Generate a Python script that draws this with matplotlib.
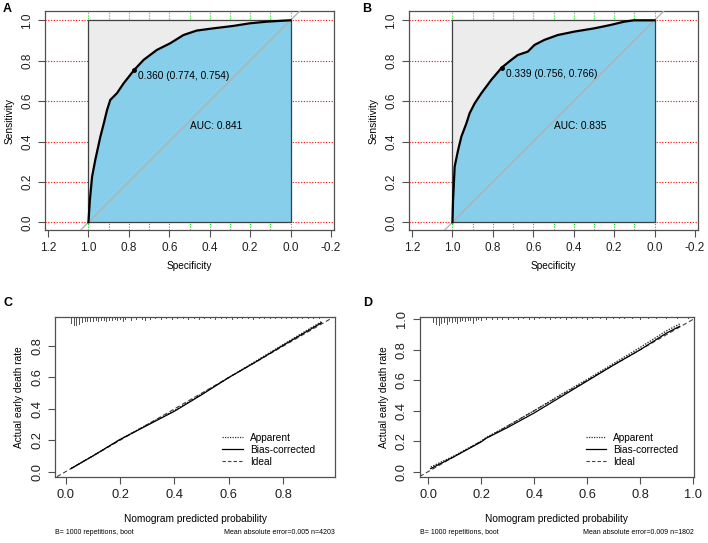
"""
ROC curves (A, B) and bootstrap calibration curves (C, D)
"""

import matplotlib
matplotlib.use("Agg")
import matplotlib.pyplot as plt
from matplotlib.lines import Line2D
from matplotlib.patches import Rectangle
import numpy as np

plt.rcParams["font.family"] = ["Liberation Sans", "DejaVu Sans"]

# ── ROC data ──
roc_a_spec = [1.0, 0.993, 0.982, 0.966, 0.941, 0.924, 0.908, 0.892, 0.859, 0.826,
              0.774, 0.727, 0.662, 0.596, 0.530, 0.465, 0.383, 0.284, 0.202, 0.120,
              0.038, 0.0]
roc_a_sens = [0.0, 0.11, 0.226, 0.31, 0.424, 0.49, 0.556, 0.606, 0.639, 0.688,
              0.754, 0.804, 0.853, 0.886, 0.927, 0.949, 0.96, 0.972, 0.985, 0.993,
              0.998, 1.0]
roc_a_thres = (0.774, 0.754, "0.360 (0.774, 0.754)")
roc_a_auc = "AUC: 0.841"

roc_b_spec = [1.0, 0.997, 0.989, 0.972, 0.956, 0.931, 0.915, 0.890, 0.857, 0.808,
              0.756, 0.709, 0.677, 0.627, 0.594, 0.545, 0.479, 0.397, 0.299, 0.217,
              0.151, 0.102, 0.0]
roc_b_sens = [0.0, 0.11, 0.276, 0.358, 0.424, 0.49, 0.54, 0.589, 0.639, 0.705,
              0.766, 0.804, 0.828, 0.845, 0.878, 0.903, 0.927, 0.944, 0.96, 0.977,
              0.993, 1.0, 1.0]
roc_b_thres = (0.756, 0.766, "0.339 (0.756, 0.766)")
roc_b_auc = "AUC: 0.835"

roc_xticks = [1.2, 1.0, 0.8, 0.6, 0.4, 0.2, 0.0, -0.2]
roc_xticklabels = ["1.2", "1.0", "0.8", "0.6", "0.4", "0.2", "0.0", "-0.2"]
roc_yticks = [0.0, 0.2, 0.4, 0.6, 0.8, 1.0]

# ── calibration data ──
cal_c_x = [0.02, 0.1, 0.2, 0.3, 0.4, 0.5, 0.6, 0.7, 0.8, 0.94]
cal_c_apparent = [0.02, 0.10, 0.205, 0.30, 0.39, 0.495, 0.60, 0.705, 0.81, 0.955]
cal_c_bias = [0.02, 0.10, 0.205, 0.295, 0.385, 0.49, 0.60, 0.70, 0.805, 0.948]

cal_d_x = [0.01, 0.1, 0.2, 0.22, 0.3, 0.4, 0.5, 0.6, 0.7, 0.8, 0.9, 0.95]
cal_d_apparent = [0.03, 0.105, 0.20, 0.225, 0.30, 0.40, 0.505, 0.605, 0.71, 0.815, 0.925, 0.97]
cal_d_bias = [0.02, 0.10, 0.195, 0.22, 0.29, 0.385, 0.49, 0.595, 0.70, 0.80, 0.91, 0.955]

# spike histogram along the top (position, length in y units)
rug_c_x = [0.02, 0.03, 0.04, 0.05, 0.06, 0.07, 0.08, 0.09, 0.10, 0.11, 0.12, 0.13,
           0.14, 0.15, 0.16, 0.17, 0.18, 0.19, 0.20, 0.21, 0.22, 0.24, 0.26, 0.28,
           0.29, 0.31, 0.33, 0.35, 0.37, 0.39, 0.41, 0.43, 0.45, 0.47, 0.49, 0.51,
           0.53, 0.55, 0.57, 0.59, 0.61, 0.63, 0.65, 0.67, 0.69, 0.71, 0.73, 0.75,
           0.77, 0.79, 0.81, 0.83, 0.85, 0.87, 0.89, 0.91, 0.93]
rug_c_len = [0.04, 0.05, 0.05, 0.045, 0.035, 0.03, 0.025, 0.03, 0.025, 0.02, 0.025, 0.02,
             0.02, 0.025, 0.018, 0.02, 0.015, 0.02, 0.015, 0.03, 0.015, 0.02, 0.015, 0.012,
             0.018, 0.012, 0.01, 0.012, 0.01, 0.012, 0.01, 0.01, 0.012, 0.01, 0.012, 0.01,
             0.01, 0.012, 0.01, 0.01, 0.012, 0.01, 0.01, 0.01, 0.012, 0.01, 0.01, 0.01,
             0.01, 0.01, 0.01, 0.01, 0.01, 0.01, 0.01, 0.01, 0.01]

rug_d_x = [0.02, 0.03, 0.04, 0.05, 0.06, 0.07, 0.08, 0.09, 0.10, 0.11, 0.12, 0.13,
           0.14, 0.15, 0.16, 0.17, 0.18, 0.19, 0.20, 0.22, 0.24, 0.26, 0.28, 0.30,
           0.32, 0.34, 0.36, 0.38, 0.40, 0.42, 0.44, 0.46, 0.48, 0.50, 0.52, 0.54,
           0.56, 0.58, 0.60, 0.62, 0.65, 0.67, 0.70, 0.72, 0.74, 0.77, 0.80, 0.83,
           0.86, 0.90, 0.94, 0.98]
rug_d_len = [0.035, 0.045, 0.055, 0.04, 0.035, 0.045, 0.03, 0.035, 0.025, 0.04, 0.03, 0.02,
             0.025, 0.02, 0.02, 0.04, 0.02, 0.015, 0.02, 0.015, 0.012, 0.015, 0.012, 0.012,
             0.01, 0.012, 0.01, 0.012, 0.015, 0.01, 0.01, 0.012, 0.01, 0.01, 0.012, 0.01,
             0.01, 0.01, 0.012, 0.01, 0.01, 0.015, 0.01, 0.01, 0.01, 0.01, 0.012, 0.01,
             0.01, 0.01, 0.01, 0.01]

cal_c_note = ("B= 1000 repetitions, boot", "Mean absolute error=0.005 n=4203")
cal_d_note = ("B= 1000 repetitions, boot", "Mean absolute error=0.009 n=1802")

FS = 7.3
FRAME = "#505050"


def roc_panel(ax, spec, sens, thres, auc_txt):
    for y in roc_yticks:
        ax.axhline(y, color="#ff0000", linestyle=(0, (1, 1.5)), linewidth=0.8, zorder=0)
    for x in np.linspace(0, 1, 11):
        ax.axvline(x, color="#00e000", linestyle=(0, (1, 1.5)), linewidth=0.8, zorder=0)
    ax.add_patch(Rectangle((0, 0), 1, 1, facecolor="#ececec", edgecolor="none", zorder=1))
    ax.fill_between(spec, sens, 0, color="#87ceeb", linewidth=0, zorder=2)
    ax.add_patch(Rectangle((0, 0), 1, 1, facecolor="none", edgecolor="#404040",
                           linewidth=0.9, zorder=3))
    ax.axline((1, 0), (0, 1), color="#b0b0b0", linewidth=0.9, zorder=4)
    ax.plot(spec, sens, color="black", linewidth=1.6, zorder=5)
    ax.plot(thres[0], thres[1], "o", color="black", markersize=2.5, zorder=6)
    ax.text(thres[0] - 0.02, thres[1] - 0.005, thres[2], fontsize=FS, va="top", ha="left", zorder=7)
    ax.text(0.5, 0.5, auc_txt, fontsize=FS, va="top", ha="left", zorder=7)

    ax.set_xlim(1.215, -0.215)
    ax.set_ylim(-0.038, 1.046)
    ax.set_xticks(roc_xticks)
    ax.set_xticklabels(roc_xticklabels)
    ax.set_yticks(roc_yticks)
    ax.set_yticklabels([f"{v:.1f}" for v in roc_yticks], rotation=90, va="center")
    ax.set_xlabel("Specificity", fontsize=FS, labelpad=5)
    ax.set_ylabel("Sensitivity", fontsize=FS, labelpad=5)
    style(ax, 8.5)


def cal_panel(ax, x, apparent, bias, rug_x, rug_len, xlim, ylim, xticks, yticks, note, leg_x):
    ax.axline((0, 0), (1, 1), color="#404040", linestyle=(0, (4, 2.5)), linewidth=0.8)
    ax.plot(x, apparent, color="#303030", linestyle=(0, (1, 1)), linewidth=1.0)
    ax.plot(x, bias, color="black", linewidth=0.9)
    top = ylim[1]
    for rx, rl in zip(rug_x, rug_len):
        ax.plot([rx, rx], [top, top - rl], color="#505050", linewidth=0.7)

    handles = [
        Line2D([], [], color="#303030", linestyle=(0, (1, 1)), linewidth=0.9),
        Line2D([], [], color="black", linewidth=0.9),
        Line2D([], [], color="#404040", linestyle=(0, (3, 2)), linewidth=0.8),
    ]
    ax.legend(handles, ["Apparent", "Bias-corrected", "Ideal"], loc="lower left",
              bbox_to_anchor=(leg_x, 0.005), frameon=False, fontsize=FS,
              handlelength=2.0, handletextpad=0.7, labelspacing=0.2)

    ax.set_xlim(*xlim)
    ax.set_ylim(*ylim)
    ax.set_xticks(xticks)
    ax.set_xticklabels([f"{v:.1f}" for v in xticks])
    ax.set_yticks(yticks)
    ax.set_yticklabels([f"{v:.1f}" for v in yticks], rotation=90, va="center")
    ax.set_xlabel("Nomogram predicted probability", fontsize=FS, labelpad=10)
    ax.set_ylabel("Actual early death rate", fontsize=FS, labelpad=5)
    ax.text(0.0, -0.35, note[0], transform=ax.transAxes, fontsize=5, ha="left", va="center")
    ax.text(1.0, -0.35, note[1], transform=ax.transAxes, fontsize=5, ha="right", va="center")
    style(ax, 9.3)


def style(ax, tick_fs):
    for s in ax.spines.values():
        s.set_color(FRAME)
        s.set_linewidth(0.9)
    ax.tick_params(direction="out", length=5, width=0.8, color=FRAME,
                   labelsize=tick_fs, pad=3.5, labelcolor="#202020")


def main():
    fig = plt.figure(figsize=(7.08, 5.43), dpi=100)
    W, H = 708, 543

    def rect(l, r, t, b):
        return [l / W, 1 - b / H, (r - l) / W, (b - t) / H]

    ax_a = fig.add_axes(rect(45, 334, 11, 230))
    ax_b = fig.add_axes(rect(409, 698, 11, 230))
    ax_c = fig.add_axes(rect(55, 335, 316.7, 476.7))
    ax_d = fig.add_axes(rect(419.7, 694, 316.7, 476.7))

    roc_panel(ax_a, roc_a_spec, roc_a_sens, roc_a_thres, roc_a_auc)
    roc_panel(ax_b, roc_b_spec, roc_b_sens, roc_b_thres, roc_b_auc)
    cal_panel(ax_c, cal_c_x, cal_c_apparent, cal_c_bias, rug_c_x, rug_c_len,
              (-0.039, 0.99), (-0.032, 0.987), [0.0, 0.2, 0.4, 0.6, 0.8],
              [0.0, 0.2, 0.4, 0.6, 0.8], cal_c_note, 0.565)
    cal_panel(ax_d, cal_d_x, cal_d_apparent, cal_d_bias, rug_d_x, rug_d_len,
              (-0.0315, 1.004), (-0.033, 1.018), [0.0, 0.2, 0.4, 0.6, 0.8, 1.0],
              [0.0, 0.2, 0.4, 0.6, 0.8, 1.0], cal_d_note, 0.572)

    for lbl, x, y in [("A", 3, 9), ("B", 362, 9), ("C", 3, 303), ("D", 363, 303)]:
        fig.text(x / W, 1 - y / H, lbl, fontsize=9, fontweight="bold", va="center", ha="left")

    fig.savefig("out.png", dpi=100)
    plt.close(fig)


if __name__ == "__main__":
    main()
